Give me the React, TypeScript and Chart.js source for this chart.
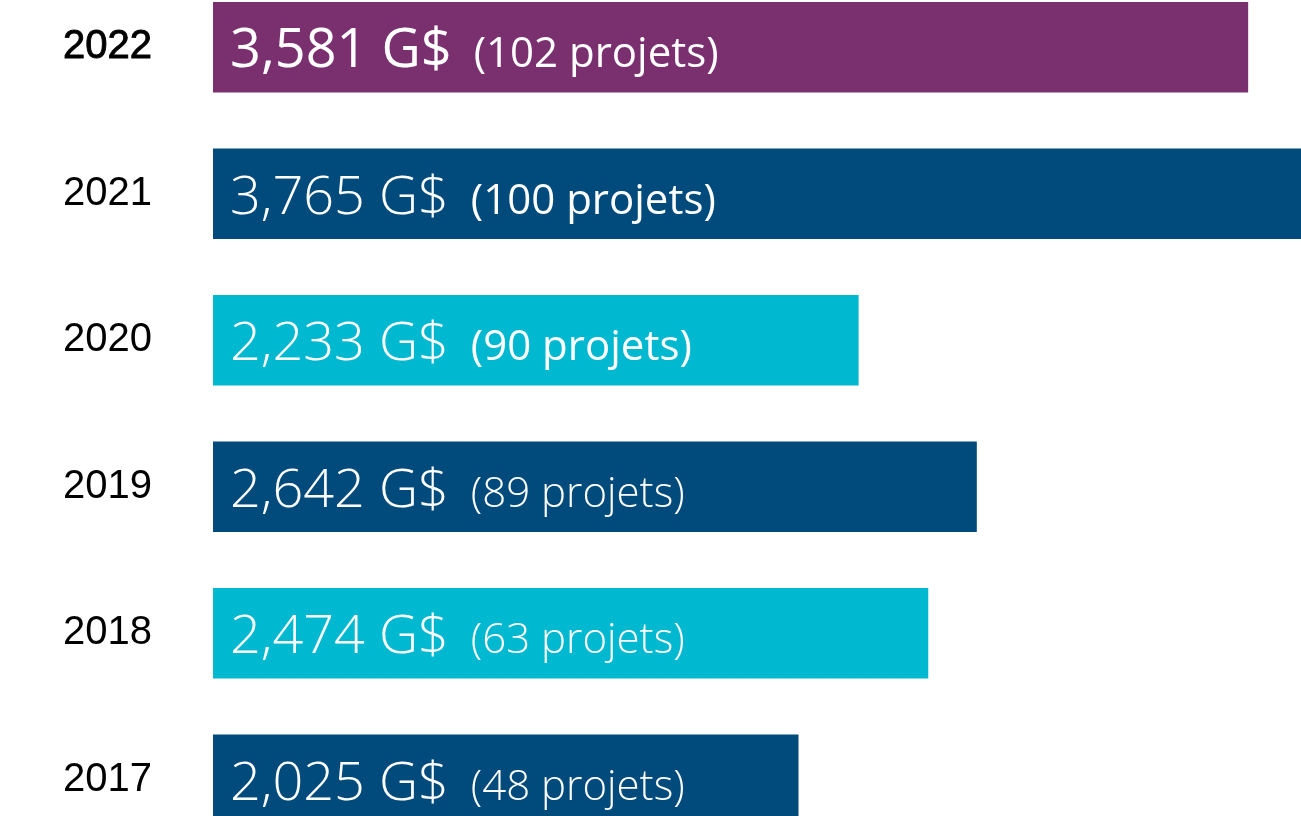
import React, { useEffect, useRef } from "react";
import { Chart, registerables } from "chart.js";

Chart.register(...registerables);

const years = ["2022", "2021", "2020", "2019", "2018", "2017"];
const amounts = [3.581, 3.765, 2.233, 2.642, 2.474, 2.025];
const projects = [102, 100, 90, 89, 63, 48];

const barColors = ["#7A306E", "#004B7B", "#00B9D0", "#004B7B", "#00B9D0", "#004B7B"];
const valueWeights = [400, 300, 300, 300, 300, 300];
const projWeights = [400, 400, 400, 300, 300, 300];

const FONT = "'Open Sans', 'DejaVu Sans', sans-serif";
const YEAR_FONT = "'Liberation Sans', Arial, sans-serif";

const labelPlugin = {
  id: "barLabels",
  afterDatasetsDraw(chart: any) {
    const ctx = chart.ctx;
    const meta = chart.getDatasetMeta(0);
    const yScale = chart.scales.y;
    ctx.save();
    ctx.textBaseline = "alphabetic";
    meta.data.forEach((bar: any, i: number) => {
      // year label
      const yc = yScale.getPixelForValue(i);
      ctx.textAlign = "right";
      ctx.fillStyle = "#000000";
      ctx.font = `400 40px ${YEAR_FONT}`;
      const yx = chart.chartArea.left - 61;
      ctx.fillText(years[i], yx, yc + 11);
      if (i === 0) {
        ctx.strokeStyle = "#000000";
        ctx.lineWidth = 0.9;
        ctx.strokeText(years[i], yx, yc + 11);
      }
      // value + projects label
      ctx.textAlign = "left";
      ctx.fillStyle = "#ffffff";
      const left = bar.base;
      const y = bar.y + 20;
      const valText = amounts[i].toFixed(3).replace(".", ",") + " G$";
      ctx.font = `${valueWeights[i]} 54px ${FONT}`;
      const x0 = left + 17;
      ctx.fillText(valText, x0, y);
      const w = ctx.measureText(valText).width;
      ctx.font = `${projWeights[i]} 42px ${FONT}`;
      ctx.fillText(`(${projects[i]} projets)`, x0 + w + 22, y);
    });
    ctx.restore();
  },
};

export default function App() {
  const ref = useRef<HTMLCanvasElement | null>(null);
  useEffect(() => {
    if (!ref.current) return;
    const chart = new Chart(ref.current, {
      type: "bar",
      data: {
        labels: years,
        datasets: [
          {
            data: amounts,
            backgroundColor: barColors,
            barThickness: 90,
            borderWidth: 0,
          },
        ],
      },
      options: {
        indexAxis: "y",
        animation: false,
        responsive: true,
        maintainAspectRatio: false,
        layout: { padding: { left: 213, right: 0, top: 0, bottom: 0 } },
        plugins: {
          legend: { display: false },
          tooltip: { enabled: false },
        },
        scales: {
          x: {
            display: false,
            min: 0,
            max: 3.765,
          },
          y: {
            display: false,
          },
        },
      },
      plugins: [labelPlugin],
    });
    return () => chart.destroy();
  }, []);

  return (
    <div
      style={{
        position: "fixed",
        left: 0,
        top: 0,
        width: 1301,
        height: 816,
        overflow: "hidden",
        background: "#ffffff",
      }}
    >
      <div style={{ position: "absolute", left: 0, top: -26, width: 1301, height: 879 }}>
        <canvas ref={ref} />
      </div>
    </div>
  );
}
